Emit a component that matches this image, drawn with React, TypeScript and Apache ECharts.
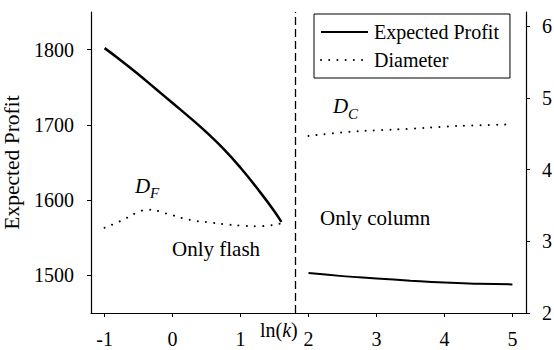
import React, { useEffect, useRef } from "react";
import * as echarts from "echarts";

const FONT = "Liberation Serif";

// ln(k) positions and values
const flashX = [-1, -0.75, -0.5, -0.25, 0, 0.25, 0.5, 0.75, 1.0, 1.25, 1.5, 1.6];
const flashProfit = [1802, 1785, 1767, 1748, 1729, 1710, 1690, 1668, 1643, 1615, 1585, 1571];
const flashDiamX = [-1, -0.75, -0.5, -0.35, -0.1, 0.25, 0.5, 0.75, 1.0, 1.25, 1.6];
const flashDiameter = [3.19, 3.29, 3.41, 3.44, 3.39, 3.3, 3.27, 3.24, 3.22, 3.21, 3.25];
const columnX = [2, 2.5, 3, 3.5, 4, 4.5, 5];
const columnProfit = [1503, 1499, 1496, 1493, 1490.5, 1489, 1488];
const columnDiameter = [4.47, 4.52, 4.55, 4.57, 4.6, 4.62, 4.63];
const boundaryX = 1.8;

const xTicks = [-1, 0, 1, 2, 3, 4, 5];
const profitTicks = [1500, 1600, 1700, 1800];
const diameterTicks = [2, 3, 4, 5, 6];

const pairs = (xs: number[], ys: number[]) => xs.map((x, i) => [x, ys[i]]);

export default function App() {
  const ref = useRef<HTMLDivElement>(null);
  useEffect(() => {
    if (!ref.current) return;
    const chart = echarts.init(ref.current, null, { renderer: "svg" });
    const axisLine = { show: true, onZero: false, lineStyle: { color: "#000", width: 1.2 } };
    const labelStyle = { color: "#000", fontSize: 20, fontFamily: FONT };
    const plain = (v: number) => String(v);
    const dotted = { color: "#000", width: 2, type: [0.01, 8.2] as any, cap: "round" as const };
    chart.setOption({
      animation: false,
      backgroundColor: "#fff",
      textStyle: { fontFamily: FONT, color: "#000" },
      grid: { left: 91, right: 28, top: 12, bottom: 37, containLabel: false, outerBoundsMode: "none" },
      legend: {
        data: ["Expected Profit", "Diameter"],
        orient: "vertical",
        left: 314,
        top: 14,
        itemWidth: 47,
        itemHeight: 14,
        itemGap: 8,
        padding: [8, 11, 8, 6],
        borderColor: "#000",
        borderWidth: 1,
        backgroundColor: "#fff",
        itemStyle: { color: "rgba(0,0,0,0)", borderColor: "rgba(0,0,0,0)", borderWidth: 0 },
        textStyle: { ...labelStyle, padding: [0, 0, 0, 1] },
      },
      xAxis: {
        type: "value",
        min: -1.2,
        max: 5.2,
        axisLine,
        splitLine: { show: false },
        axisTick: { show: true, customValues: xTicks, length: 4, lineStyle: { color: "#000" } },
        axisLabel: { ...labelStyle, customValues: xTicks, margin: 16, formatter: plain },
      },
      yAxis: [
        {
          type: "value",
          min: 1450,
          max: 1850,
          position: "left",
          axisLine,
          splitLine: { show: false },
          axisTick: { show: true, customValues: profitTicks, length: 4, lineStyle: { color: "#000" } },
          axisLabel: { ...labelStyle, customValues: profitTicks, margin: 17, formatter: plain },
          name: "Expected Profit",
          nameLocation: "middle",
          nameGap: 56,
          nameTextStyle: { ...labelStyle, fontSize: 21.5 },
        },
        {
          type: "value",
          min: 2,
          max: 6.2,
          position: "right",
          axisLine,
          splitLine: { show: false },
          axisTick: { show: true, customValues: diameterTicks, length: 4, lineStyle: { color: "#000" } },
          axisLabel: { ...labelStyle, customValues: diameterTicks, margin: 16, formatter: plain },
        },
      ],
      series: [
        {
          name: "Expected Profit",
          type: "line",
          yAxisIndex: 0,
          symbol: "none",
          smooth: true,
          data: pairs(flashX, flashProfit),
          lineStyle: { color: "#000", width: 2.5 },
          itemStyle: { color: "#000" },
          markLine: {
            silent: true,
            symbol: ["none", "none"],
            label: { show: false },
            lineStyle: { color: "#000", width: 1.3, type: [8, 4] },
            data: [{ xAxis: boundaryX }],
          },
        },
        {
          name: "Expected Profit",
          type: "line",
          yAxisIndex: 0,
          symbol: "none",
          smooth: true,
          data: pairs(columnX, columnProfit),
          lineStyle: { color: "#000", width: 2 },
          itemStyle: { color: "#000" },
        },
        {
          name: "Diameter",
          type: "line",
          yAxisIndex: 1,
          symbol: "none",
          smooth: true,
          data: pairs(flashDiamX, flashDiameter),
          lineStyle: dotted,
          itemStyle: { color: "#000" },
        },
        {
          name: "Diameter",
          type: "line",
          yAxisIndex: 1,
          symbol: "none",
          smooth: true,
          data: pairs(columnX, columnDiameter),
          lineStyle: dotted,
          itemStyle: { color: "#000" },
        },
      ],
      graphic: [
        { type: "text", x: 135, y: 185.5, style: { text: "D", font: `italic 21px ${FONT}`, fill: "#000", verticalAlign: "middle" } },
        { type: "text", x: 150, y: 193, style: { text: "F", font: `italic 15px ${FONT}`, fill: "#000", verticalAlign: "middle" } },
        { type: "text", x: 333, y: 106, style: { text: "D", font: `italic 21px ${FONT}`, fill: "#000", verticalAlign: "middle" } },
        { type: "text", x: 348, y: 114, style: { text: "C", font: `italic 15px ${FONT}`, fill: "#000", verticalAlign: "middle" } },
        { type: "text", x: 172, y: 248.5, style: { text: "Only flash", font: `21px ${FONT}`, fill: "#000", verticalAlign: "middle" } },
        { type: "text", x: 320, y: 217.5, style: { text: "Only column", font: `21px ${FONT}`, fill: "#000", verticalAlign: "middle" } },
        {
          type: "text",
          x: 260,
          y: 329.5,
          style: {
            text: "{a|ln(}{b|k}{a|)}",
            fill: "#000",
            verticalAlign: "middle",
            rich: {
              a: { fontSize: 20, fontFamily: FONT, fill: "#000" },
              b: { fontSize: 20, fontFamily: FONT, fontStyle: "italic", fill: "#000" },
            },
          },
        },
      ],
    });
    return () => chart.dispose();
  }, []);
  return <div ref={ref} style={{ position: "fixed", left: 0, top: 0, width: 554, height: 350 }} />;
}
